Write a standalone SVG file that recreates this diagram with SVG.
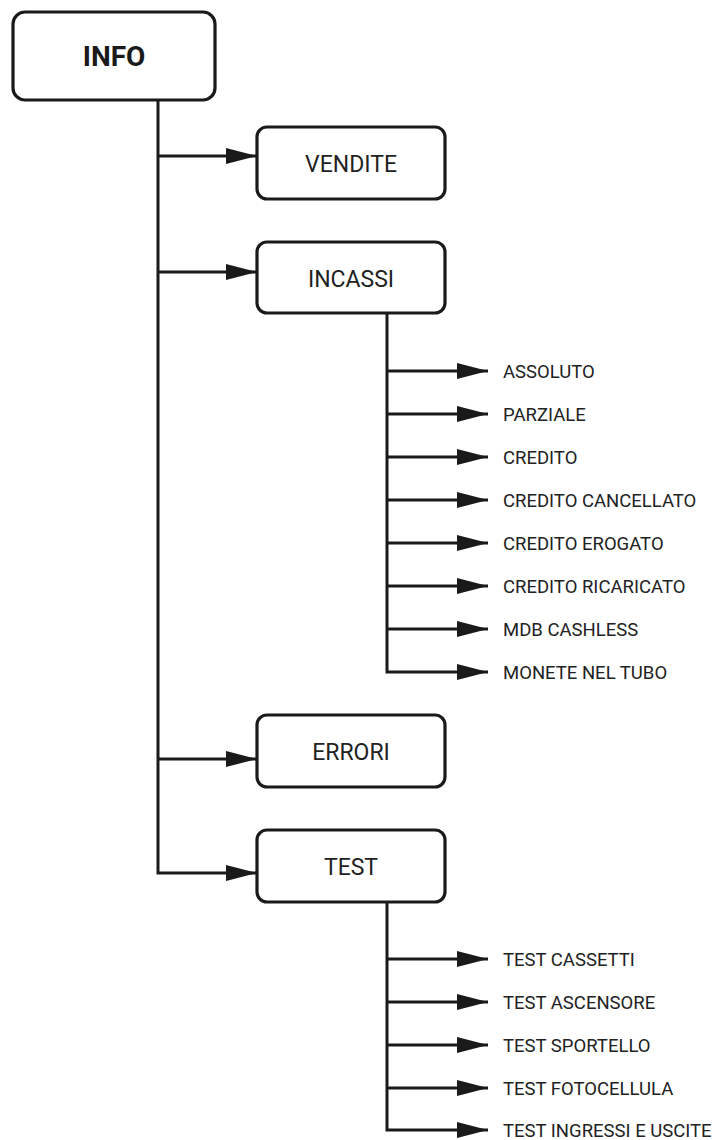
<svg xmlns="http://www.w3.org/2000/svg" width="726" height="1140" viewBox="0 0 726 1140">
  <defs>
    <marker id="arr" markerUnits="userSpaceOnUse" markerWidth="31" markerHeight="16" refX="31" refY="8" orient="auto">
      <path d="M0,0 L31,8 L0,16 Z" fill="#1a1a1a"/>
    </marker>
    <style>
      .box { fill: #fff; stroke: #1a1a1a; stroke-width: 3.2; }
      .ln { fill: none; stroke: #1a1a1a; stroke-width: 3; stroke-linejoin: miter; }
      .main { font-family: Roboto, "Liberation Sans", sans-serif; font-size: 23px; fill: #222; text-anchor: middle; }
      .title { font-family: Roboto, "Liberation Sans", sans-serif; font-size: 28px; font-weight: bold; fill: #1a1a1a; text-anchor: middle; }
      .sub { font-family: Roboto, "Liberation Sans", sans-serif; font-size: 18.5px; fill: #222; }
    </style>
  </defs>
  <rect width="726" height="1140" fill="#fff"/>

  <g id="connectors">
    <path class="ln" d="M158,100 V873 H257" marker-end="url(#arr)"/>
    <path class="ln" d="M158,156 H257" marker-end="url(#arr)"/>
    <path class="ln" d="M158,272 H257" marker-end="url(#arr)"/>
    <path class="ln" d="M158,759 H257" marker-end="url(#arr)"/>

    <path class="ln" d="M387,313 V672 H488" marker-end="url(#arr)"/>
    <path class="ln" d="M387,371 H488" marker-end="url(#arr)"/>
    <path class="ln" d="M387,414 H488" marker-end="url(#arr)"/>
    <path class="ln" d="M387,457 H488" marker-end="url(#arr)"/>
    <path class="ln" d="M387,500 H488" marker-end="url(#arr)"/>
    <path class="ln" d="M387,543 H488" marker-end="url(#arr)"/>
    <path class="ln" d="M387,586 H488" marker-end="url(#arr)"/>
    <path class="ln" d="M387,629 H488" marker-end="url(#arr)"/>

    <path class="ln" d="M387,902 V1130 H488" marker-end="url(#arr)"/>
    <path class="ln" d="M387,959 H488" marker-end="url(#arr)"/>
    <path class="ln" d="M387,1002 H488" marker-end="url(#arr)"/>
    <path class="ln" d="M387,1045 H488" marker-end="url(#arr)"/>
    <path class="ln" d="M387,1088 H488" marker-end="url(#arr)"/>
  </g>

  <g id="info">
    <rect class="box" x="13" y="12" width="202" height="88" rx="12" stroke-width="3.8"/>
    <text class="title" x="114" y="66">INFO</text>
  </g>
  <g id="vendite">
    <rect class="box" x="257" y="127" width="188" height="72" rx="10"/>
    <text class="main" x="351" y="172">VENDITE</text>
  </g>
  <g id="incassi">
    <rect class="box" x="257" y="242" width="188" height="71" rx="10"/>
    <text class="main" x="351" y="287">INCASSI</text>
  </g>
  <g id="errori">
    <rect class="box" x="257" y="715" width="188" height="72" rx="10"/>
    <text class="main" x="351" y="760">ERRORI</text>
  </g>
  <g id="test">
    <rect class="box" x="257" y="830" width="188" height="72" rx="10"/>
    <text class="main" x="351" y="875">TEST</text>
  </g>

  <g id="assoluto"><text class="sub" x="503" y="378">ASSOLUTO</text></g>
  <g id="parziale"><text class="sub" x="503" y="421">PARZIALE</text></g>
  <g id="credito"><text class="sub" x="503" y="464">CREDITO</text></g>
  <g id="credito-cancellato"><text class="sub" x="503" y="507">CREDITO CANCELLATO</text></g>
  <g id="credito-erogato"><text class="sub" x="503" y="550">CREDITO EROGATO</text></g>
  <g id="credito-ricaricato"><text class="sub" x="503" y="593">CREDITO RICARICATO</text></g>
  <g id="mdb-cashless"><text class="sub" x="503" y="636">MDB CASHLESS</text></g>
  <g id="monete-nel-tubo"><text class="sub" x="503" y="679">MONETE NEL TUBO</text></g>

  <g id="test-cassetti"><text class="sub" x="503" y="966">TEST CASSETTI</text></g>
  <g id="test-ascensore"><text class="sub" x="503" y="1009">TEST ASCENSORE</text></g>
  <g id="test-sportello"><text class="sub" x="503" y="1052">TEST SPORTELLO</text></g>
  <g id="test-fotocellula"><text class="sub" x="503" y="1095">TEST FOTOCELLULA</text></g>
  <g id="test-ingressi-uscite"><text class="sub" x="503" y="1137">TEST INGRESSI E USCITE</text></g>
</svg>
